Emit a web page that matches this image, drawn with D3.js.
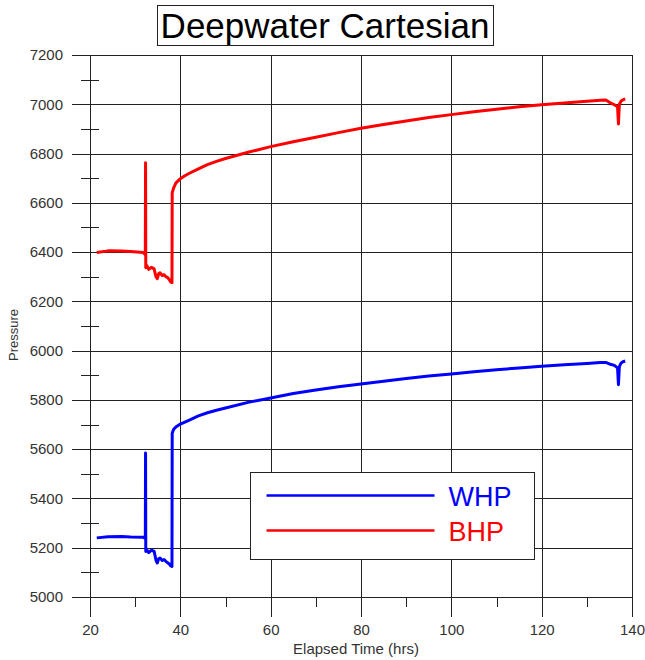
<!DOCTYPE html>
<html lang="en">
<head>
<meta charset="UTF-8">
<title>Deepwater Cartesian</title>
<script src="https://d3js.org/d3.v7.min.js"></script>
<style>
    body{ margin:0; background:#fff; }
    svg{ font-family:"Liberation Sans", Arial, sans-serif; }
    .tick text{ fill:#333; font-size:15px; }
    .axis path{ display:none; }
    .axis line, .grid line{ stroke:#222; shape-rendering:crispEdges; }
</style>
</head>
<body>
<svg id="chart" width="645" height="660"></svg>
<script>
// elapsed time (hrs), shared by both series
const hours = [21.5, 24, 27, 29, 31.8, 32.25, 32.3, 32.35, 32.6, 33.0, 33.6, 34.2, 34.6, 34.9, 35.2, 35.5,
    36.0, 36.4, 36.8, 37.1, 37.5, 37.9, 38.15, 38.2, 38.5, 39.0, 40, 41, 42, 44, 46, 48, 50, 55, 60, 65,
    70, 75, 80, 85, 90, 95, 100, 105, 110, 115, 120, 125, 130, 133, 134.2, 135, 136.1, 136.8, 137.0,
    137.2, 137.6, 138.0, 138.5];
const bhp = [6398, 6405, 6404, 6402, 6398, 6390, 6763, 6336, 6345, 6330, 6338, 6332, 6300, 6292, 6312, 6316,
    6305, 6308, 6300, 6298, 6290, 6278, 6276, 6640, 6660, 6680, 6698, 6710, 6720, 6738, 6755, 6768, 6780, 6805, 6828, 6848,
    6866, 6885, 6903, 6918, 6932, 6946, 6958, 6970, 6980, 6990, 6998, 7005, 7012, 7016, 7017, 7008, 6998, 6990, 6920,
    7000, 7013, 7018, 7022];
const whp = [5240, 5245, 5246, 5244, 5243, 5238, 5584, 5185, 5190, 5180, 5190, 5185, 5150, 5138, 5155, 5158,
    5148, 5152, 5145, 5140, 5135, 5126, 5124, 5665, 5680, 5690, 5702, 5710, 5718, 5735, 5748, 5758, 5767, 5790, 5808, 5826,
    5840, 5853, 5865, 5876, 5887, 5897, 5905, 5914, 5922, 5930, 5937, 5943, 5948, 5952, 5952, 5946, 5940, 5930, 5862,
    5935, 5950, 5955, 5958];

const xMajor = [20, 40, 60, 80, 100, 120, 140];
const xMinor = [30, 50, 70, 90, 110, 130];
const yMajor = [5000, 5200, 5400, 5600, 5800, 6000, 6200, 6400, 6600, 6800, 7000, 7200];
const yMinor = [5100, 5300, 5500, 5700, 5900, 6100, 6300, 6500, 6700, 6900, 7100];

const seriesNames = ['WHP', 'BHP'];
const seriesColors = ['#0000ff', '#ff0000'];

const margin = {top:55, right:13, bottom:63, left:90};
const width = 645 - margin.left - margin.right;
const height = 660 - margin.top - margin.bottom;

const svg = d3.select('#chart');
const chart = svg.append('g').attr('transform', 'translate(' + margin.left + ',' + margin.top + ')');

const x = d3.scaleLinear().domain([20, 140]).range([0, width]);
const y = d3.scaleLinear().domain([5000, 7200]).range([height, 0]);

// grid
chart.append('g').attr('class', 'grid')
    .call(d3.axisLeft(y).tickValues(yMajor).tickSize(-width).tickFormat(''))
    .select('.domain').remove();
chart.append('g').attr('class', 'grid')
    .call(d3.axisBottom(x).tickValues(xMajor).tickSize(height).tickFormat(''))
    .select('.domain').remove();

// left axis
chart.append('g').attr('class', 'axis')
    .call(d3.axisLeft(y).tickValues(yMajor).tickSize(18).tickPadding(9).tickFormat(d3.format('d')));
chart.append('g').attr('class', 'axis')
    .selectAll('line').data(yMinor).enter().append('line')
    .attr('x1', -9).attr('x2', 9)
    .attr('y1', d => Math.round(y(d)) + 0.5).attr('y2', d => Math.round(y(d)) + 0.5);
chart.append('line')
    .attr('x1', 0.5).attr('x2', 0.5).attr('y1', 0).attr('y2', height + 20)
    .attr('stroke', '#222');
chart.append('line')
    .attr('x1', width + 0.5).attr('x2', width + 0.5).attr('y1', 0).attr('y2', height + 20)
    .attr('stroke', '#222');

// bottom axis
chart.append('g').attr('class', 'axis')
    .attr('transform', 'translate(0,' + height + ')')
    .call(d3.axisBottom(x).tickValues(xMajor).tickSize(20).tickPadding(7).tickFormat(d3.format('d')));
chart.append('g').attr('class', 'axis')
    .attr('transform', 'translate(0,' + height + ')')
    .selectAll('line').data(xMinor).enter().append('line')
    .attr('x1', d => Math.round(x(d)) + 0.5).attr('x2', d => Math.round(x(d)) + 0.5)
    .attr('y1', 0).attr('y2', 10);
chart.append('line')
    .attr('x1', -18).attr('x2', width).attr('y1', height + 0.5).attr('y2', height + 0.5)
    .attr('stroke', '#222');
chart.append('line')
    .attr('x1', -18).attr('x2', width).attr('y1', 0.5).attr('y2', 0.5)
    .attr('stroke', '#222');

// axis titles
svg.append('text')
    .attr('x', margin.left + width / 2 - 5).attr('y', 654)
    .attr('text-anchor', 'middle').attr('font-size', 15).attr('fill', '#333')
    .text('Elapsed Time (hrs)');
svg.append('text')
    .attr('transform', 'translate(18,335) rotate(-90)')
    .attr('text-anchor', 'middle').attr('font-size', 13).attr('fill', '#333')
    .text('Pressure');

// title
svg.append('rect')
    .attr('x', 157.5).attr('y', 5.5).attr('width', 336).attr('height', 40)
    .attr('fill', '#fff').attr('stroke', '#222');
svg.append('text')
    .attr('x', 325).attr('y', 38)
    .attr('text-anchor', 'middle').attr('font-size', 35).attr('fill', '#000')
    .text('Deepwater Cartesian');

// data lines
const line = d3.line()
    .x((d, i) => x(hours[i]))
    .y(d => y(d));
[whp, bhp].forEach((s, i) => {
    chart.append('path')
        .datum(s)
        .attr('fill', 'none')
        .attr('stroke', seriesColors[i])
        .attr('stroke-width', 3)
        .attr('stroke-linejoin', 'round')
        .attr('d', line);
});

// legend
const legend = svg.append('g').attr('transform', 'translate(250.5,472.5)');
legend.append('rect')
    .attr('width', 284).attr('height', 87)
    .attr('fill', '#fff').attr('stroke', '#222');
seriesNames.forEach((n, i) => {
    const ly = 23 + i * 35;
    legend.append('line')
        .attr('x1', 16).attr('x2', 184).attr('y1', ly).attr('y2', ly)
        .attr('stroke', seriesColors[i]).attr('stroke-width', 2.5);
    legend.append('text')
        .attr('x', 198).attr('y', ly + 10)
        .attr('font-size', 27).attr('fill', seriesColors[i])
        .text(n);
});
</script>
</body>
</html>
